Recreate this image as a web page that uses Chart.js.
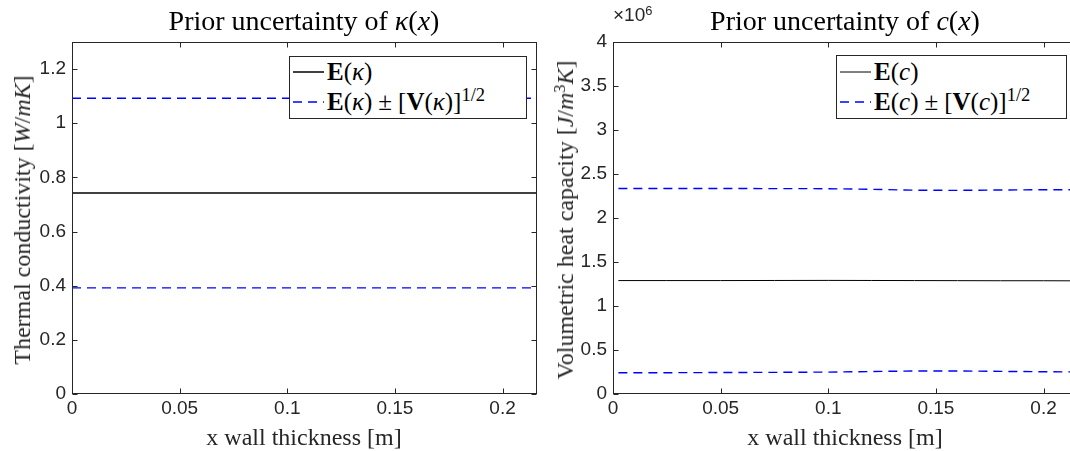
<!DOCTYPE html>
<html>
<head>
<meta charset="utf-8">
<script src="https://cdn.jsdelivr.net/npm/chart.js@4.4.1/dist/chart.umd.min.js"></script>
<style>
  html, body { margin: 0; padding: 0; background: #fff; }
  body { width: 1070px; height: 451px; overflow: hidden; position: relative; }
  canvas { position: absolute; top: 0; }
  .txt { position: absolute; font-family: "Liberation Serif", "Times New Roman", serif; color: #262626; white-space: nowrap; line-height: 1; }
  .title { font-size: 28px; color: #000; transform: translateX(-50%); }
  .xlab { font-size: 24px; transform: translateX(-50%); }
  .ylab { font-size: 24px; transform: translate(-50%, -50%) rotate(-90deg); }
  .legend { position: absolute; background: #fff; border: 1px solid #262626; box-sizing: border-box; }
  .legend .row { position: absolute; left: 0; height: 26px; display: flex; align-items: center; font-family: "Liberation Serif", serif; font-size: 25px; color: #000; white-space: nowrap; }
  .legend svg { margin-right: 3px; }
  .legend .op { margin: 0 6px; }
  .legend sup { font-size: 0.74em; }
  sup { font-size: 0.68em; vertical-align: 0.5em; line-height: 0; }
  .expo { position: absolute; font-family: "Liberation Sans", Arial, sans-serif; font-size: 19px; color: #262626; line-height: 1; }
</style>
</head>
<body>
<canvas id="kappaChart" width="545" height="451" style="left:0px"></canvas>
<canvas id="capChart" width="545" height="451" style="left:541px"></canvas>

<div class="txt title" style="left:304px; top:7px">Prior uncertainty of <i>κ</i>(<i>x</i>)</div>
<div class="txt title" style="left:845px; top:7px">Prior uncertainty of <i>c</i>(<i>x</i>)</div>
<div class="txt xlab" style="left:304px; top:425px">x wall thickness [m]</div>
<div class="txt xlab" style="left:845px; top:425px">x wall thickness [m]</div>
<div class="txt ylab" style="left:22px; top:220px">Thermal conductivity [<i>W</i>/<i>mK</i>]</div>
<div class="txt ylab" style="left:565px; top:220px">Volumetric heat capacity [<i>J</i>/<i>m</i><sup>3</sup><i>K</i>]</div>
<div class="expo" style="left:613px; top:5px">×10<sup>6</sup></div>

<div class="legend" style="left:289px; top:56px; width:238px; height:63px">
  <div class="row" style="top:2px; left:3px">
    <svg width="31" height="4"><line x1="0" y1="2" x2="31" y2="2" stroke="#000" stroke-width="1.5"/></svg>
    <span><b>E</b>(<i>κ</i>)</span>
  </div>
  <div class="row" style="top:32px; left:3px">
    <svg width="31" height="4"><line x1="0" y1="2" x2="31" y2="2" stroke="#0000ff" stroke-width="1.5" stroke-dasharray="9 6"/></svg>
    <span><b>E</b>(<i>κ</i>)<span class="op">±</span>[<b>V</b>(<i>κ</i>)]<sup>1/2</sup></span>
  </div>
</div>
<div class="legend" style="left:836px; top:55px; width:231px; height:64px">
  <div class="row" style="top:3px; left:3px">
    <svg width="31" height="4"><line x1="0" y1="2" x2="31" y2="2" stroke="#000" stroke-width="1"/></svg>
    <span><b>E</b>(<i>c</i>)</span>
  </div>
  <div class="row" style="top:33px; left:3px">
    <svg width="31" height="4"><line x1="0" y1="2" x2="31" y2="2" stroke="#0000ff" stroke-width="1.5" stroke-dasharray="9 6"/></svg>
    <span><b>E</b>(<i>c</i>)<span class="op">±</span>[<b>V</b>(<i>c</i>)]<sup>1/2</sup></span>
  </div>
</div>

<script>
// thermal conductivity (left plot)
const kappaX = [0, 0.027, 0.054, 0.081, 0.108, 0.135, 0.162, 0.189, 0.216];
const kappaMean = [0.742, 0.742, 0.742, 0.742, 0.742, 0.742, 0.742, 0.742, 0.742];
const kappaUpper = [1.092, 1.092, 1.092, 1.092, 1.092, 1.092, 1.092, 1.092, 1.092];
const kappaLower = [0.392, 0.392, 0.392, 0.392, 0.392, 0.392, 0.392, 0.392, 0.392];

// volumetric heat capacity (right plot)
const capX = [0.0025, 0.025, 0.05, 0.075, 0.1, 0.12, 0.14, 0.16, 0.18, 0.2, 0.216];
const capMean = [1.289e6, 1.289e6, 1.289e6, 1.290e6, 1.291e6, 1.290e6, 1.289e6, 1.288e6, 1.287e6, 1.287e6, 1.286e6];
const capUpper = [2.336e6, 2.336e6, 2.335e6, 2.334e6, 2.333e6, 2.326e6, 2.316e6, 2.314e6, 2.318e6, 2.321e6, 2.322e6];
const capLower = [0.241e6, 0.242e6, 0.244e6, 0.246e6, 0.249e6, 0.255e6, 0.262e6, 0.262e6, 0.257e6, 0.253e6, 0.251e6];

// axis limits / ticks
const xMax = 0.216;
const xStep = 0.05;
const kappaYMax = 1.3;
const kappaYStep = 0.2;
const capYMax = 4e6;
const capYStep = 0.5e6;

const axisColor = '#262626';
const tickFont = { family: '"Liberation Sans", Arial, sans-serif', size: 19 };

// matlab style box with inward ticks on all four sides
const boxTicks = {
  id: 'boxTicks',
  afterDraw(chart) {
    const { ctx, chartArea: a, scales } = chart;
    const L = Math.round(a.left) + 0.5, R = Math.round(a.right) - 0.5;
    const T = Math.round(a.top) + 0.5, B = Math.round(a.bottom) - 0.5;
    ctx.save();
    ctx.strokeStyle = axisColor;
    ctx.lineWidth = 1;
    ctx.strokeRect(L, T, R - L, B - T);
    ctx.beginPath();
    scales.x.ticks.forEach(t => {
      const px = Math.round(scales.x.getPixelForValue(t.value)) + 0.5;
      ctx.moveTo(px, B); ctx.lineTo(px, B - 5);
      ctx.moveTo(px, T); ctx.lineTo(px, T + 5);
    });
    scales.y.ticks.forEach(t => {
      const py = Math.round(scales.y.getPixelForValue(t.value)) + 0.5;
      ctx.moveTo(L, py); ctx.lineTo(L + 5, py);
      ctx.moveTo(R, py); ctx.lineTo(R - 5, py);
    });
    ctx.stroke();
    ctx.restore();
  }
};

function toPoints(xs, ys) {
  return xs.map((x, i) => ({ x: x, y: ys[i] }));
}

function makeChart(id, xs, mean, upper, lower, yMax, yStep, yFmt, meanWidth) {
  return new Chart(document.getElementById(id), {
    type: 'line',
    data: {
      datasets: [
        { data: toPoints(xs, mean), borderColor: '#000', borderWidth: meanWidth, pointRadius: 0, tension: 0 },
        { data: toPoints(xs, upper), borderColor: '#0000ff', borderWidth: 1.4, borderDash: [9, 6], pointRadius: 0, tension: 0 },
        { data: toPoints(xs, lower), borderColor: '#0000ff', borderWidth: 1.4, borderDash: [9, 6], pointRadius: 0, tension: 0 }
      ]
    },
    options: {
      responsive: false,
      devicePixelRatio: 1,
      animation: false,
      layout: { padding: { top: 42, right: 8, bottom: 0, left: 0 } },
      plugins: { legend: { display: false }, tooltip: { enabled: false }, title: { display: false } },
      scales: {
        x: {
          type: 'linear',
          min: 0,
          max: xMax,
          grid: { display: false, drawTicks: false },
          border: { display: false },
          ticks: {
            stepSize: xStep,
            includeBounds: false,
            maxRotation: 0,
            autoSkip: false,
            color: axisColor,
            font: tickFont,
            padding: 3,
            callback: v => String(+v.toFixed(3))
          },
          afterFit: s => { s.height = 57; }
        },
        y: {
          min: 0,
          max: yMax,
          grid: { display: false, drawTicks: false },
          border: { display: false },
          ticks: {
            stepSize: yStep,
            includeBounds: false,
            autoSkip: false,
            color: axisColor,
            font: tickFont,
            padding: 6,
            callback: yFmt
          },
          afterFit: s => { s.width = 72; }
        }
      }
    },
    plugins: [boxTicks]
  });
}

makeChart('kappaChart', kappaX, kappaMean, kappaUpper, kappaLower, kappaYMax, kappaYStep,
  v => String(+v.toFixed(2)), 1.5);
makeChart('capChart', capX, capMean, capUpper, capLower, capYMax, capYStep,
  v => String(+(v / 1e6).toFixed(2)), 1);
</script>
</body>
</html>
